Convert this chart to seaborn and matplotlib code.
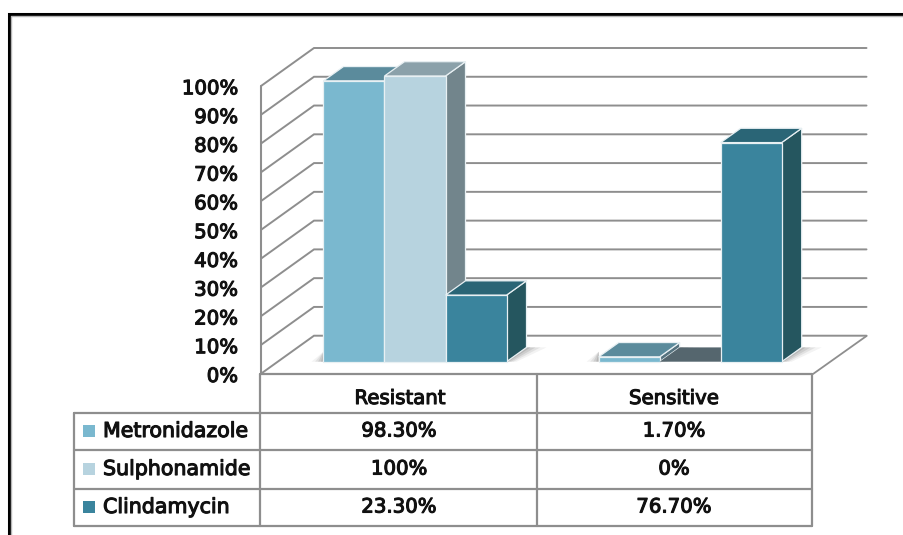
#!/usr/bin/env python3
import matplotlib
matplotlib.use("Agg")
import matplotlib.pyplot as plt
import matplotlib.patheffects as pe
import pandas as pd
import seaborn as sns
from matplotlib.patches import Polygon, Rectangle

groups = ["Resistant", "Sensitive"]
drugs = ["Metronidazole", "Sulphonamide", "Clindamycin"]
metronidazole = [98.3, 1.7]
sulphonamide = [100, 0]
clindamycin = [23.3, 76.7]
table_metronidazole = ["98.30%", "1.70%"]
table_sulphonamide = ["100%", "0%"]
table_clindamycin = ["23.30%", "76.70%"]
y_ticks = [0, 10, 20, 30, 40, 50, 60, 70, 80, 90, 100]

front_colors = ["#7AB8CF", "#B7D3DF", "#3A849D"]
top_colors = ["#5B8B9C", "#8BA1AA", "#2A6576"]
side_colors = ["#55727E", "#72858C", "#25565F"]
LINE = "#8E8E8E"
INK = "#111111"

W, H = 904, 535
sns.set_theme(style="white")
plt.rcParams["font.family"] = ["DejaVu Sans"]

fig = plt.figure(figsize=(W / 100, H / 100), dpi=100)

# background layer in pixel coordinates: frame, walls, table
bg = fig.add_axes([0, 0, 1, 1], zorder=0)
bg.set_xlim(0, W)
bg.set_ylim(H, 0)
bg.axis("off")


def label(x, y, s, ha="center", size=14.2):
    # slight stroke so the text gets the semi-bold look of the original
    t = bg.text(x, y, s, ha=ha, va="center", fontsize=size, color=INK)
    t.set_path_effects([pe.withStroke(linewidth=0.8, foreground=INK)])


# picture frame
bg.plot([9.5, 9.5, W], [H, 14, 14], color="black", lw=2.2, solid_joinstyle="miter")
bg.plot([11.5, 11.5, W], [H, 16, 16], color="#B5B5B5", lw=1.0)

# back wall gridlines and side wall
step = 28.77
for i in range(11):
    back_y = 48 + i * step
    left_y = 86 + i * step
    bg.plot([261, 314, 866.5], [left_y, back_y, back_y], color=LINE, lw=1.4, solid_joinstyle="miter")
bg.plot([261, 261], [86, 374], color=LINE, lw=1.5)
bg.plot([813, 866.5], [374, 336], color=LINE, lw=1.3)

# tick labels
for i, t in enumerate(y_ticks):
    label(238, 376.5 - i * step, f"{t}%", ha="right")

# data table
xs = [74, 260.5, 537.5, 812.5]
ys = [374, 412.7, 449.5, 489, 526]
for y in ys:
    bg.plot([xs[0] if y != ys[0] else xs[1], xs[3]], [y, y], color=LINE, lw=1.6)
bg.plot([xs[0], xs[0]], [ys[1], ys[4]], color=LINE, lw=1.6)
for x in xs[1:]:
    bg.plot([x, x], [ys[0], ys[4]], color=LINE, lw=1.6)

for x, g in zip([400, 674], groups):
    label(x, 398.5, g)

rows = [table_metronidazole, table_sulphonamide, table_clindamycin]
for name, row, color, y in zip(drugs, rows, front_colors, [431, 469, 507]):
    bg.add_patch(Rectangle((83, y - 6.5), 12.5, 12, facecolor=color, edgecolor="none"))
    label(103, y, name, ha="left", size=14.8)
    for x, val in zip([399, 674], row):
        label(x, y, val)

# bars on a transparent axes, scaled so the front plane lines up
df = pd.DataFrame({
    "group": groups * 3,
    "drug": [d for d in drugs for _ in groups],
    "value": metronidazole + sulphonamide + clindamycin,
})

ax = fig.add_axes([0, 0, 1, 1], zorder=1)
ax.patch.set_alpha(0)
sns.barplot(
    data=df, x="group", y="value", hue="drug", order=groups, hue_order=drugs,
    palette=front_colors, saturation=1, width=0.665, gap=0, legend=False, ax=ax,
)
px_x = 275.2
px_y = 2.857
ax.set_xlim(-415.0 / px_x, (W - 415.0) / px_x)
ax.set_ylim((361.7 - H) / px_y, 361.7 / px_y)
ax.axis("off")

# fake depth of the columns
dx = 20 / px_x
dy = 14.3 / px_y
edge = "#E8F0F3"
bars = []
for k, container in enumerate(ax.containers):
    for p in container.patches:
        bars.append((p.get_x(), k, p))

for order, (_, k, p) in enumerate(sorted(bars, key=lambda b: b[0])):
    x0 = p.get_x()
    x1 = x0 + p.get_width()
    h = p.get_height()
    z = 3 + order

    # soft shadow on the floor, right of each column and left of each group
    for grow, alpha in [(20, 0.08), (14, 0.12), (9, 0.16), (4, 0.22)]:
        g = grow / px_x
        ax.add_patch(Polygon(
            [(x1, 0), (x1 + dx, dy), (x1 + dx + g, dy), (x1 + g * 0.5, 0)],
            facecolor="#666666", edgecolor="none", alpha=alpha, zorder=2,
        ))
        if k == 0:
            ax.add_patch(Polygon(
                [(x0, 0), (x0, 3.5), (x0 - g * 0.6, 0)],
                facecolor="#666666", edgecolor="none", alpha=alpha, zorder=2,
            ))
    if h == 0:
        # flat column: only the top face shows
        ax.add_patch(Polygon([(x0, 0), (x1, 0), (x1 + dx, dy), (x0 + dx, dy)],
                             facecolor="#55666E", edgecolor="none", zorder=z))
        continue
    ax.add_patch(Polygon([(x1, 0), (x1 + dx, dy), (x1 + dx, h + dy), (x1, h)],
                         facecolor=side_colors[k], edgecolor=edge, lw=0.9, zorder=z))
    ax.add_patch(Polygon([(x0, h), (x1, h), (x1 + dx, h + dy), (x0 + dx, h + dy)],
                         facecolor=top_colors[k], edgecolor=edge, lw=0.9, zorder=z))
    p.set_edgecolor(edge)
    p.set_linewidth(0.9)
    p.set_zorder(z + 0.5)

fig.savefig("out.png", dpi=100)
